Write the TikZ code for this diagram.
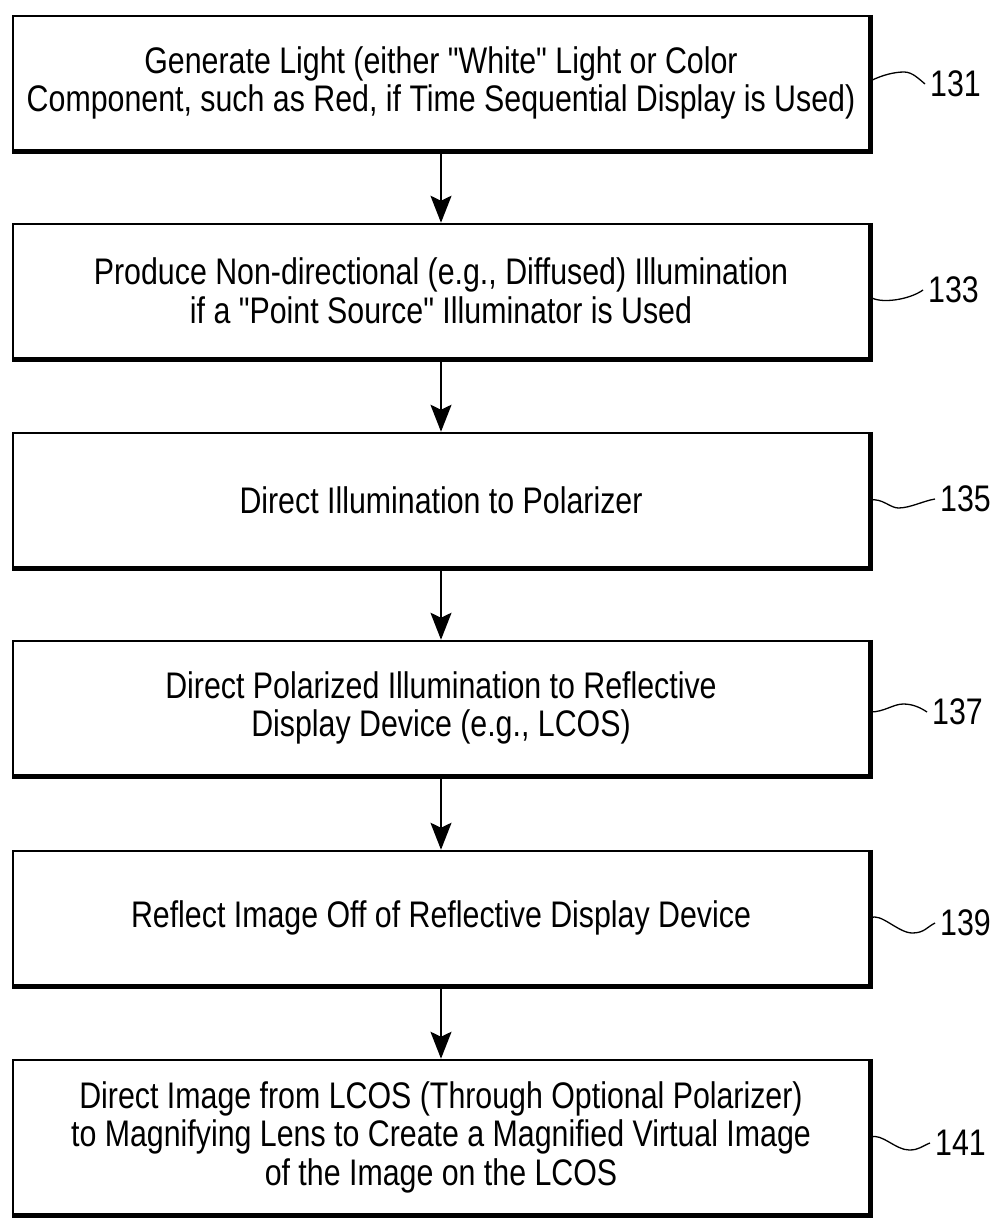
\documentclass[tikz,border=0pt]{standalone}
\usepackage{fontspec}
\setmainfont{Liberation Sans}[FakeStretch=0.82, Ligatures=TeXOff]
\usetikzlibrary{arrows.meta}
\newcommand{\sq}{\symbol{34}}
\begin{document}
\begin{tikzpicture}[x=1pt,y=-1pt,
 stepbox/.style={draw, line width=2.5pt, minimum width=856pt, minimum height=134pt, inner sep=0pt, align=center, font=\fontsize{37}{38.5}\selectfont},
 reflabel/.style={anchor=west, inner sep=5pt, font=\fontsize{37}{38}\selectfont},
 flow/.style={line width=2pt, -{Stealth[length=27pt,width=21pt,inset=5pt]}},
 leader/.style={line width=1.3pt},
 shade/.style={line width=4.5pt, line join=miter}]
\useasboundingbox (0,0) rectangle (998,1218);

\node[stepbox] (b1) at (441,83) {Generate Light (either \sq White\sq{} Light or Color\\Component, such as Red, if Time Sequential Display is Used)};
\node[stepbox] (b2) at (441,291) {Produce Non-directional (e.g., Diffused) Illumination\\if a \sq Point Source\sq{} Illuminator is Used};
\node[stepbox] (b3) at (441,500) {Direct Illumination to Polarizer};
\node[stepbox] (b4) at (441,708) {Direct Polarized Illumination to Reflective\\Display Device (e.g., LCOS)};
\node[stepbox] (b5) at (441,918) {Reflect Image Off of Reflective Display Device};
\node[stepbox, minimum height=154pt] (b6) at (441,1137) {Direct Image from LCOS (Through Optional Polarizer)\\to Magnifying Lens to Create a Magnified Virtual Image\\of the Image on the LCOS};

\foreach \b in {b1,b2,b3,b4,b5,b6}{
  \draw[shade] (\b.north east) -- (\b.south east) -- (\b.south west);
}

\draw[flow] (b1.south) -- (b2.north);
\draw[flow] (b2.south) -- (b3.north);
\draw[flow] (b3.south) -- (b4.north);
\draw[flow] (b4.south) -- (b5.north);
\draw[flow] (b5.south) -- (b6.north);

\node[reflabel] (l1) at (925,84) {131};
\node[reflabel] (l2) at (923,290) {133};
\node[reflabel] (l3) at (935,499) {135};
\node[reflabel] (l4) at (927,712) {137};
\node[reflabel] (l5) at (935,923) {139};
\node[reflabel] (l6) at (930,1143) {141};

\draw[leader] ([yshift=2pt]b1.east) .. controls +(12,-6) and +(-10,0) .. ++(34,-9) .. controls +(8,0) and +(-6,-5) .. (l1.west);
\draw[leader] ([yshift=-6pt]b2.east) .. controls +(10,7) and +(-14,10) .. (l2.west);
\draw[leader] (b3.east) .. controls +(12,-2) and +(-8,0) .. ++(28,8) .. controls +(12,0) and +(-12,2) .. (l3.west);
\draw[leader] ([yshift=-4pt]b4.east) .. controls +(14,0) and +(-10,0) .. ++(33,-8) .. controls +(10,0) and +(-6,-4) .. (l4.west);
\draw[leader] (b5.east) .. controls +(10,-6) and +(-14,0) .. ++(42,15) .. controls +(12,0) and +(-8,4) .. (l5.west);
\draw[leader] (b6.east) .. controls +(12,-4) and +(-14,0) .. ++(39,13) .. controls +(10,0) and +(-8,3) .. (l6.west);
\end{tikzpicture}
\end{document}
